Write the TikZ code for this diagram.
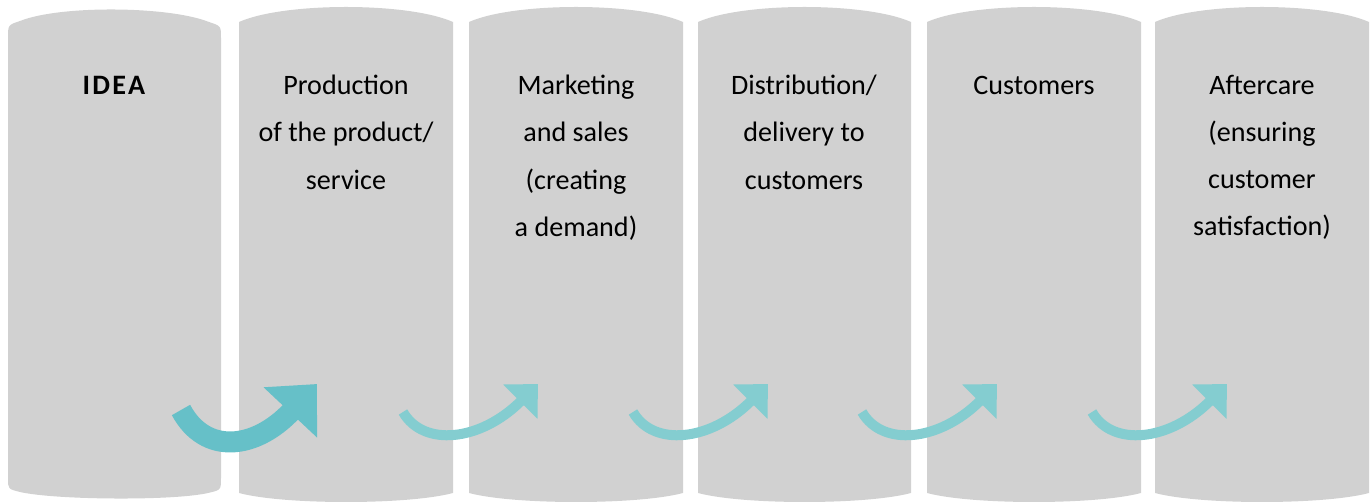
\documentclass[tikz,border=0pt]{standalone}
\usepackage{fontspec}
\setmainfont{Carlito}
\usetikzlibrary{arrows.meta}

\definecolor{stagegray}{HTML}{D1D1D1}
\definecolor{tealdark}{HTML}{66C0C8}
\definecolor{teallight}{HTML}{84CDD0}

\begin{document}
\begin{tikzpicture}
  [
   x=0.2mm, y=-0.2mm,
   stage/.style={fill=stagegray},
   lbl/.style={anchor=north,align=center,inner sep=0pt,text=black,
               font=\fontsize{16}{26.8}\selectfont,
               execute at begin node=\strut},
   bigarrow/.style={draw=tealdark,line width=4.2mm,
                    -{Triangle[length=7.8mm,width=14.2mm]}},
   thinarrow/.style={draw=teallight,line width=2mm,
                     -{Triangle[length=5mm,width=9.4mm]}}
  ]
   \useasboundingbox (0,0) rectangle (1371,502);

   % first column, rounded
   \fill[stage] (8,38) -- (8,478) .. controls (8,489) .. (20,492)
      .. controls +(35,8) and +(-35,8) .. (208,493)
      .. controls (221,490) .. (221,478) -- (221,38)
      .. controls (221,26) .. (209,22)
      .. controls +(-40,-16) and +(40,-16) .. (20,21)
      .. controls (8,25) .. (8,38) -- cycle;

   % the other columns
   \fill[stage] (239,22) .. controls +(45,-20) and +(-45,-20) .. (453,22)
      -- (453,493) .. controls +(-45,12) and +(45,12) .. (239,493) -- cycle;
   \fill[stage] (469,22) .. controls +(45,-20) and +(-45,-20) .. (683,22)
      -- (683,493) .. controls +(-45,12) and +(45,12) .. (469,493) -- cycle;
   \fill[stage] (698,22) .. controls +(45,-20) and +(-45,-20) .. (911,22)
      -- (911,493) .. controls +(-45,12) and +(45,12) .. (698,493) -- cycle;
   \fill[stage] (927,22) .. controls +(45,-20) and +(-45,-20) .. (1141,22)
      -- (1141,493) .. controls +(-45,12) and +(45,12) .. (927,493) -- cycle;
   \fill[stage] (1155,22) .. controls +(45,-20) and +(-45,-20) .. (1369,22)
      -- (1369,493) .. controls +(-45,12) and +(45,12) .. (1155,493) -- cycle;

   % texts (multi-line ones sit higher, hence 75)
   \node[lbl] (idea) at (115,61) {\textbf{\addfontfeature{LetterSpace=8}IDEA}};
   \node[lbl] (prod) at (346,75) {Production\\of the product/\\service};
   \node[lbl] (mark) at (576,75) {Marketing\\and sales\\(creating\\a demand)};
   \node[lbl] (dist) at (804,75) {Distribution/\\delivery to\\customers};
   \node[lbl] (cust) at (1034,61) {Customers};
   \node[lbl] (after) at (1262,75) {Aftercare\\(ensuring\\customer\\satisfaction)};

   \coordinate (t1) at (181,410);  \coordinate (h1) at (317,384);
   \coordinate (t2) at (403,412);  \coordinate (h2) at (538,384);
   \coordinate (t3) at (633,412);  \coordinate (h3) at (768,384);
   \coordinate (t4) at (862,412);  \coordinate (h4) at (997,384);
   \coordinate (t5) at (1092,412); \coordinate (h5) at (1227,384);

   \draw[bigarrow] (t1) .. controls +(24,45) and +(-62,66) .. (h1);
   \draw[thinarrow] (t2) .. controls +(20,35) and +(-58,58) .. (h2);
   \draw[thinarrow] (t3) .. controls +(20,35) and +(-58,58) .. (h3);
   \draw[thinarrow] (t4) .. controls +(20,35) and +(-58,58) .. (h4);
   \draw[thinarrow] (t5) .. controls +(20,35) and +(-58,58) .. (h5);

\end{tikzpicture}
\end{document}
